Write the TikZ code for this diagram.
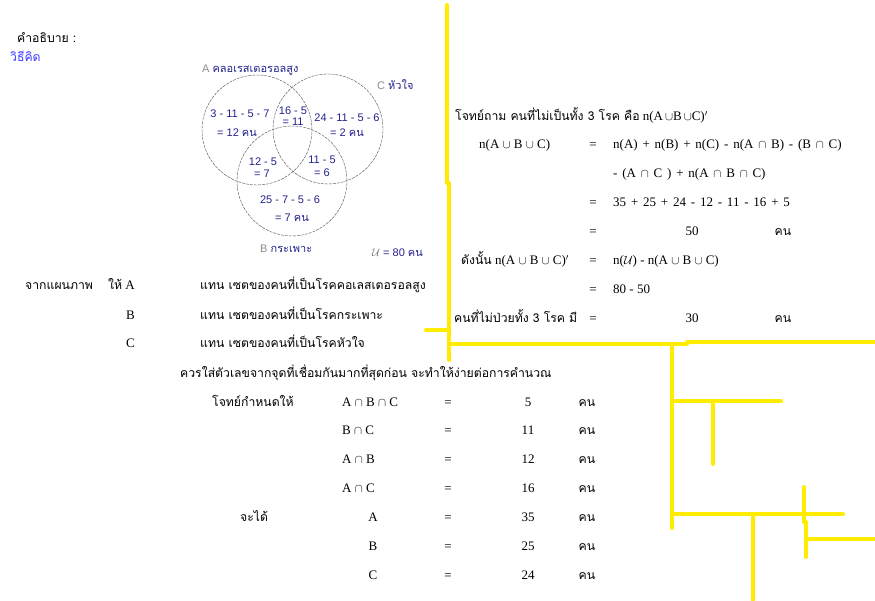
\documentclass[tikz,border=0pt]{standalone}
\usepackage{fontspec}
\setmainfont{Liberation Serif}
\setsansfont{Liberation Sans}
\newfontfamily\thaifont[Script=Thai]{Loma}
\newfontfamily\thaibody[Script=Thai,Scale=0.94]{Loma}
\usetikzlibrary{positioning}

\definecolor{vennblue}{RGB}{34,34,140}
\definecolor{linkblue}{RGB}{60,60,255}
\definecolor{hiyellow}{RGB}{255,236,0}
\newcommand{\tha}[1]{{\thaifont #1}}
\newcommand{\thb}[1]{{\thaibody #1}}
\newcommand{\widespace}{\spaceskip=0.37em plus 0.1em\relax}

\tikzset{
  body/.style={inner sep=0pt, font=\fontsize{13}{15}\selectfont},
  lbl/.style={body, anchor=base west},
  mid/.style={body, anchor=base},
  rgt/.style={body, anchor=base east},
  formula/.style={lbl, font=\fontsize{13}{15}\selectfont\widespace},
  venncirc/.style={circle, draw=black!70, dash pattern=on 3pt off 1pt, minimum size=110pt, inner sep=0pt},
  venntxt/.style={inner sep=0pt, anchor=base, text=vennblue, font=\sffamily\fontsize{11}{13}\selectfont},
  hiline/.style={draw=hiyellow, line width=4pt, line cap=round}
}

\begin{document}
\begin{tikzpicture}[x=1pt,y=-1pt]
\useasboundingbox (0,0) rectangle (875,600);

% heading
\node[lbl] (title) at (17,42.5) {\thb{คำอธิบาย :}};
\node[lbl, text=linkblue] (howto) at (10,61) {\thb{วิธีคิด}};

% venn diagram
\node[venncirc] (setA) at (257,130) {};
\node[venncirc] (setC) at (328,129) {};
\node[venncirc] (setB) at (292,181) {};

\node[venntxt, anchor=base west] (labA) at (202,72) {\textcolor{black!45}{A} \tha{คลอเรสเตอรอลสูง}};
\node[venntxt, anchor=base west] (labC) at (377,89) {\textcolor{black!45}{C} \tha{หัวใจ}};
\node[venntxt, anchor=base west] (labB) at (260,252) {\textcolor{black!45}{B} \tha{กระเพาะ}};
\node[venntxt, anchor=base west] (univ) at (372,256) {\textcolor{black!55}{$\mathcal{U}$} = 80 \tha{คน}};

\node[venntxt] (onlyA1) at (240,117) {3 - 11 - 5 - 7};
\node[venntxt] (onlyA2) at (237,136) {= 12 \tha{คน}};
\node[venntxt] (capAC1) at (293,114) {16 - 5};
\node[venntxt] (capAC2) at (293,125) {= 11};
\node[venntxt] (onlyC1) at (347,121) {24 - 11 - 5 - 6};
\node[venntxt] (onlyC2) at (347,136) {= 2 \tha{คน}};
\node[venntxt] (capAB1) at (263,165) {12 - 5};
\node[venntxt] (capAB2) at (262,177) {= 7};
\node[venntxt] (capBC1) at (322,163) {11 - 5};
\node[venntxt] (capBC2) at (322,176) {= 6};
\node[venntxt] (onlyB1) at (290,203) {25 - 7 - 5 - 6};
\node[venntxt] (onlyB2) at (292,221) {= 7 \tha{คน}};

% right column: working
\node[lbl] (question) at (455,120.5) {\thb{โจทย์ถาม คนที่ไม่เป็นทั้ง 3 โรค คือ} n(A$\,\cup$B$\,\cup$C)$'$};
\node[lbl] (unionL) at (479,148.5) {n(A $\cup$ B $\cup$ C)};
\node[mid] (eqa) at (593,148.5) {=};
\node[formula] (formA) at (613,148.5) {n(A) + n(B) + n(C) - n(A $\cap$ B) - (B $\cap$ C)};
\node[formula] (formB) at (613,177.5) {- (A $\cap$ C ) + n(A $\cap$ B $\cap$ C)};
\node[mid] (eqb) at (593,206.5) {=};
\node[formula] (subst) at (613,206.5) {35 + 25 + 24 - 12 - 11 - 16 + 5};
\node[mid] (eqc) at (593,235.5) {=};
\node[mid] (total) at (692,235.5) {50};
\node[mid] (unitA) at (783,235.5) {\thb{คน}};
\node[lbl] (complL) at (461,264.5) {\thb{ดังนั้น} n(A $\cup$ B $\cup$ C)$'$};
\node[mid] (eqd) at (593,264.5) {=};
\node[lbl] (complR) at (613,264.5) {n($\mathcal{U}$) - n(A $\cup$ B $\cup$ C)};
\node[mid] (eqe) at (593,293.5) {=};
\node[lbl] (diff) at (613,293.5) {80 - 50};
\node[lbl] (answerL) at (454,322.5) {\thb{คนที่ไม่ป่วยทั้ง 3 โรค มี}};
\node[mid] (eqf) at (593,322.5) {=};
\node[mid] (answer) at (692,322.5) {30};
\node[mid] (unitB) at (783,322.5) {\thb{คน}};

% set definitions
\node[lbl] (fromdiag) at (25,289.5) {\thb{จากแผนภาพ}};
\node[lbl] (letA) at (108,289.5) {\thb{ให้} A};
\node[lbl] (defA) at (200,289.5) {\thb{แทน เซตของคนที่เป็นโรคคอเลสเตอรอลสูง}};
\node[rgt] (letB) at (135,319.5) {B};
\node[lbl] (defB) at (200,319.5) {\thb{แทน เซตของคนที่เป็นโรคกระเพาะ}};
\node[rgt] (letC) at (135,347.5) {C};
\node[lbl] (defC) at (200,347.5) {\thb{แทน เซตของคนที่เป็นโรคหัวใจ}};
\node[lbl] (hint) at (180,377.5) {\thb{ควรใส่ตัวเลขจากจุดที่เชื่อมกันมากที่สุดก่อน จะทำให้ง่ายต่อการคำนวณ}};

% given values
\node[lbl] (given) at (212,406.5) {\thb{โจทย์กำหนดให้}};
\node[lbl] (setABC) at (342,406.5) {A $\cap$ B $\cap$ C};
\node[mid] (eq1) at (448,406.5) {=};
\node[mid] (val1) at (528,406.5) {5};
\node[mid] (unit1) at (587,406.5) {\thb{คน}};
\node[lbl] (setBC) at (342,434.5) {B $\cap$ C};
\node[mid] (eq2) at (448,434.5) {=};
\node[mid] (val2) at (528,434.5) {11};
\node[mid] (unit2) at (587,434.5) {\thb{คน}};
\node[lbl] (setAB) at (342,463.5) {A $\cap$ B};
\node[mid] (eq3) at (448,463.5) {=};
\node[mid] (val3) at (528,463.5) {12};
\node[mid] (unit3) at (587,463.5) {\thb{คน}};
\node[lbl] (setAC) at (342,492.5) {A $\cap$ C};
\node[mid] (eq4) at (448,492.5) {=};
\node[mid] (val4) at (528,492.5) {16};
\node[mid] (unit4) at (587,492.5) {\thb{คน}};
\node[lbl] (hence) at (240,521.5) {\thb{จะได้}};
\node[mid] (setonlyA) at (373,521.5) {A};
\node[mid] (eq5) at (448,521.5) {=};
\node[mid] (val5) at (528,521.5) {35};
\node[mid] (unit5) at (587,521.5) {\thb{คน}};
\node[mid] (setonlyB) at (373,550.5) {B};
\node[mid] (eq6) at (448,550.5) {=};
\node[mid] (val6) at (528,550.5) {25};
\node[mid] (unit6) at (587,550.5) {\thb{คน}};
\node[mid] (setonlyC) at (373,579.5) {C};
\node[mid] (eq7) at (448,579.5) {=};
\node[mid] (val7) at (528,579.5) {24};
\node[mid] (unit7) at (587,579.5) {\thb{คน}};

% yellow marker strokes
\draw[hiline] (447,5) -- (447,183);
\draw[hiline] (449,183) -- (449,360);
\draw[hiline] (426,330) -- (449,330);
\draw[hiline] (450,344) -- (687,344);
\draw[hiline] (687,342) -- (875,342);
\draw[hiline] (672,344) -- (672,528);
\draw[hiline] (672,401) -- (781,401);
\draw[hiline] (713,401) -- (713,464);
\draw[hiline] (672,514) -- (843,514);
\draw[hiline] (753,514) -- (753,600);
\draw[hiline] (804,487) -- (804,522);
\draw[hiline] (806,522) -- (806,557);
\draw[hiline] (807,539) -- (875,539);

\end{tikzpicture}
\end{document}
